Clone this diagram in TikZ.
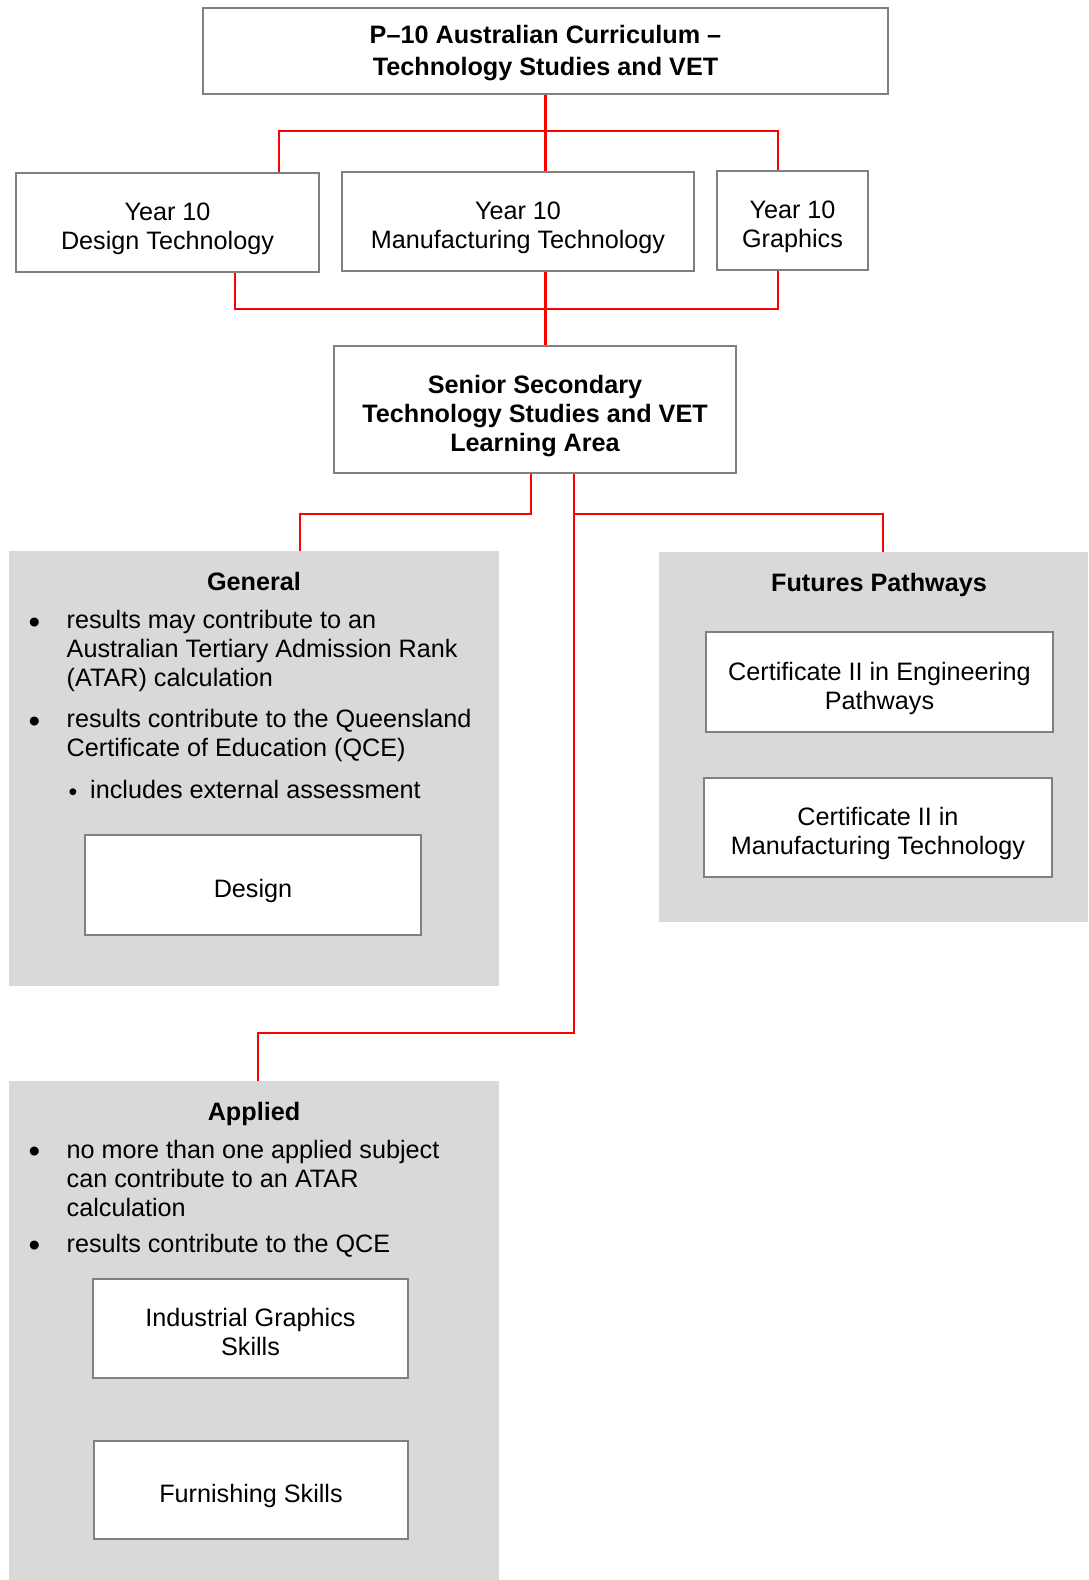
\documentclass[tikz,border=0pt]{standalone}
\usepackage{fontspec}
\setmainfont{Liberation Sans}
\definecolor{panelgray}{HTML}{D9D9D9}
\definecolor{boxgray}{HTML}{808080}
\definecolor{linkred}{HTML}{FF0000}
\newcommand\myfs{\fontsize{25.2}{29.2}\selectfont}
\newcommand\mytopfs{\fontsize{25.2}{32}\selectfont\bfseries}
\begin{document}
\begin{tikzpicture}[x=1pt,y=-1pt,
  box/.style={draw=boxgray, line width=2.4pt, fill=white, inner sep=0pt, align=center, font=\myfs, text depth=0pt},
  oneline/.style={text height=25.5pt},
  twolines/.style={text height=54.7pt},
  threelines/.style={text height=83.9pt},
  topbox/.style={box, font=\mytopfs, text depth=1.3pt},
  panel/.style={fill=panelgray, draw=none, inner sep=0pt},
  conn/.style={draw=linkred, line width=2.7pt},
  ptitle/.style={anchor=base, inner sep=0pt, font=\myfs\bfseries},
  bul/.style={anchor=base, inner sep=0pt, font=\fontsize{33}{36}\selectfont},
  subbul/.style={anchor=base, inner sep=0pt, font=\fontsize{25}{28}\selectfont},
  itemtxt/.style={anchor=base west, inner sep=0pt, align=left, font=\myfs}]
\useasboundingbox (0,0) rectangle (1088,1580);
\fill[white] (0,0) rectangle (1088,1580);

% panels
\node[panel, minimum width=490pt, minimum height=435pt] (gen) at (254,768.5) {};
\node[panel, minimum width=429pt, minimum height=370pt] (fut) at (873.5,737) {};
\node[panel, minimum width=490pt, minimum height=499pt] (app) at (254,1330.5) {};

% junction coordinates
\coordinate (h1L) at (279,131);
\coordinate (h1R) at (778,131);
\coordinate (h2L) at (235,309);
\coordinate (h2R) at (778,309);
\coordinate (s1) at (531,514);
\coordinate (g1) at (300,514);
\coordinate (s2) at (574,514);
\coordinate (f1) at (883,514);
\coordinate (s3) at (574,1033);
\coordinate (a1) at (258,1033);

% boxes
\node[topbox, minimum width=685pt, minimum height=86pt] (top) at (545.5,51)
  {P--10 Australian Curriculum --\\Technology Studies and VET};
\node[box, twolines, minimum width=303pt, minimum height=99pt] (dt) at (167.5,222.5) {Year 10\\Design Technology};
\node[box, twolines, minimum width=352pt, minimum height=99pt] (mt) at (518,221.5) {Year 10\\Manufacturing Technology};
\node[box, twolines, minimum width=151pt, minimum height=99pt] (gr) at (792.5,220.5) {Year 10\\Graphics};
\node[box, threelines, minimum width=402pt, minimum height=127pt, font=\myfs\bfseries] (sen) at (535,409.5)
  {Senior Secondary\\Technology Studies and VET\\Learning Area};

% connectors
\draw[conn] (top.south) -- (top.south |- mt.north);
\draw[conn] (h1L |- dt.north) -- (h1L) -- (h1R) -- (h1R |- gr.north);
\draw[conn] (h2L |- dt.south) -- (h2L) -- (h2R) -- (h2R |- gr.south);
\draw[conn] (top.south |- mt.south) -- (top.south |- sen.north);
\draw[conn] (s1 |- sen.south) -- (s1) -- (g1) -- (g1 |- gen.north);
\draw[conn] (s2 |- sen.south) -- (s3) -- (a1) -- (a1 |- app.north);
\draw[conn] (s2) -- (f1) -- (f1 |- fut.north);

% General panel content
\node[ptitle] (gtitle) at (254,590) {General};
\node[bul] (gb1) at (34.5,633) {•};
\node[itemtxt] (gt1) at (66.5,686.9) {results may contribute to an\\Australian Tertiary Admission Rank\\(ATAR) calculation};
\node[bul] (gb2) at (34.5,732.5) {•};
\node[itemtxt] (gt2) at (66.5,756.7) {results contribute to the Queensland\\Certificate of Education (QCE)};
\node[subbul] (gb3) at (73,800) {•};
\node[itemtxt] (gt3) at (90,798.5) {includes external assessment};
\node[box, oneline, minimum width=336pt, minimum height=100pt] (des) at (253,885) {Design};

% Futures panel content
\node[ptitle] (ftitle) at (879,591) {Futures Pathways};
\node[box, twolines, minimum width=347pt, minimum height=100pt] (ce) at (879.5,682) {Certificate II in Engineering\\Pathways};
\node[box, twolines, minimum width=348pt, minimum height=99pt] (cm) at (878,827.5) {Certificate II in\\Manufacturing Technology};

% Applied panel content
\node[ptitle] (atitle) at (254,1120) {Applied};
\node[bul] (ab1) at (34.5,1162) {•};
\node[itemtxt] (at1) at (66.5,1216.9) {no more than one applied subject\\can contribute to an ATAR\\calculation};
\node[bul] (ab2) at (34.5,1256) {•};
\node[itemtxt] (at2) at (66.5,1252.5) {results contribute to the QCE};
\node[box, twolines, minimum width=315pt, minimum height=99pt] (ig) at (250.5,1328.5) {Industrial Graphics\\Skills};
\node[box, oneline, minimum width=314pt, minimum height=98pt] (fs) at (251,1490) {Furnishing Skills};
\end{tikzpicture}
\end{document}
